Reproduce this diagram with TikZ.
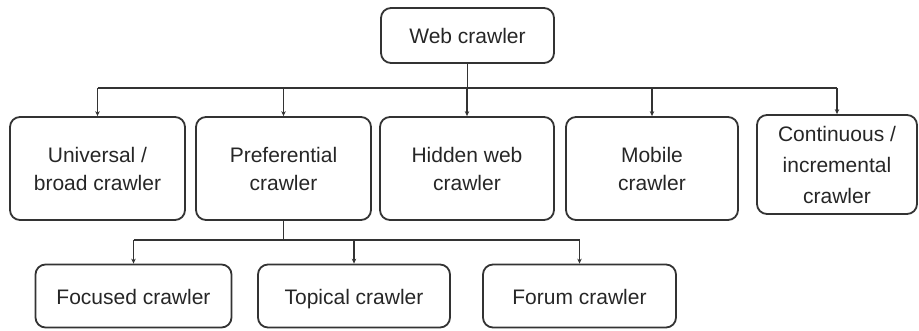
\documentclass[tikz,border=0pt]{standalone}
\usepackage{fontspec}
\setmainfont{Liberation Sans}
\usetikzlibrary{arrows.meta}
\definecolor{ln}{HTML}{333333}
\definecolor{tx}{HTML}{262626}
\begin{document}
\begin{tikzpicture}[x=1pt,y=-1pt,
  box/.style={draw=ln,line width=1.8pt,rounded corners=10pt,align=center,inner sep=0pt,
    text=tx,font=\fontsize{21}{28}\selectfont},
  one/.style={box,text height=18pt,text depth=1.5pt},
  conn/.style={draw=ln,line width=1.5pt},
  arr/.style={conn,-{Stealth[length=5pt,width=4.5pt]}}]
\useasboundingbox (0,0) rectangle (919,330);
\node[one,minimum width=173pt,minimum height=55pt] (web) at (467.5,35.5) {Web crawler};
\node[box,minimum width=175pt,minimum height=103pt] (uni) at (97.5,168.5) {Universal /\\broad crawler};
\node[box,minimum width=175pt,minimum height=103pt] (pref) at (283.5,168.5) {Preferential\\crawler};
\node[box,minimum width=174pt,minimum height=103pt] (hid) at (467,168.5) {Hidden web\\crawler};
\node[box,minimum width=172pt,minimum height=103pt] (mob) at (652,168.5) {Mobile\\crawler};
\node[box,minimum width=160pt,minimum height=99pt,font=\fontsize{21}{31}\selectfont] (cont) at (837,164.5) {Continuous /\\incremental\\crawler};
\node[one,minimum width=196pt,minimum height=63pt] (foc) at (133.5,296) {Focused crawler};
\node[one,minimum width=192pt,minimum height=63pt] (top) at (354,296) {Topical crawler};
\node[one,minimum width=193pt,minimum height=63pt] (for) at (579.5,296) {Forum crawler};
\coordinate (bus1) at (0,88);
\coordinate (bus2) at (0,240);
\draw[conn] (web.south) -- (web.south |- bus1);
\draw[conn] (uni.north |- bus1) -- (cont.north |- bus1);
\foreach \n in {uni,pref,hid,mob,cont}
  \draw[arr] (\n.north |- bus1) -- (\n.north);
\draw[conn] (pref.south) -- (pref.south |- bus2);
\draw[conn] (foc.north |- bus2) -- (for.north |- bus2);
\foreach \n in {foc,top,for}
  \draw[arr] (\n.north |- bus2) -- (\n.north);
\end{tikzpicture}
\end{document}
